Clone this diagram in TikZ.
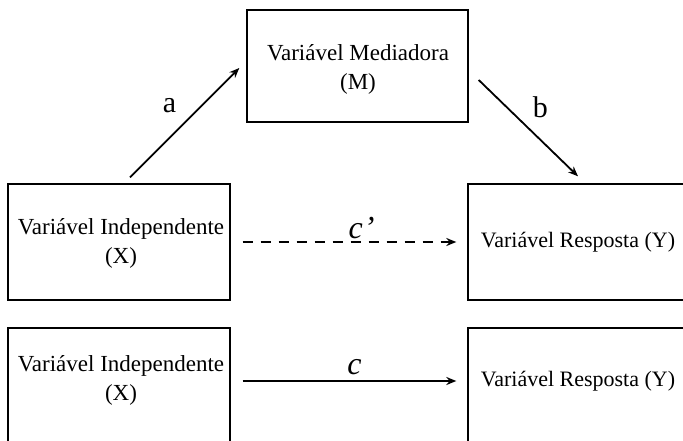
\documentclass[tikz,border=0pt]{standalone}
\usepackage{fontspec}
\setmainfont{Liberation Serif}
\usetikzlibrary{arrows.meta}
\begin{document}
\begin{tikzpicture}[x=1pt,y=-1pt,
  box/.style={draw, line width=1.4pt, inner sep=0pt},
  conn/.style={line width=1.8pt, -{Stealth[length=10pt,width=8pt]}},
  txt/.style={font=\fontsize{23}{29}\selectfont, align=center, inner sep=0pt},
  rtxt/.style={font=\fontsize{22}{28}\selectfont, align=center, inner sep=0pt},
  lab/.style={font=\fontsize{30}{32}\selectfont, inner sep=0pt},
  ilab/.style={font=\fontsize{32}{34}\selectfont\itshape, inner sep=0pt}]
\useasboundingbox (0,0) rectangle (683,441);
\begin{scope}
\clip (0,0) rectangle (683,441);
\node[box, minimum width=221pt, minimum height=112pt] (M) at (357.5,66) {};
\node[box, minimum width=222pt, minimum height=116pt] (X1) at (119,242) {};
\node[box, minimum width=232pt, minimum height=116pt] (Y1) at (584,242) {};
\node[box, minimum width=222pt, minimum height=133pt] (X2) at (119,394.5) {};
\node[box, minimum width=232pt, minimum height=133pt] (Y2) at (584,394.5) {};
\end{scope}
\node[txt] (mt) at (358,69) {Variável Mediadora\\(M)};
\node[txt] (xt1) at (121,243) {Variável Independente\\(X)};
\node[rtxt] (yt1) at (578,242) {Variável Resposta (Y)};
\node[txt] (xt2) at (121,380) {Variável Independente\\(X)};
\node[rtxt] (yt2) at (578,381) {Variável Resposta (Y)};
\draw[conn] ([shift={(11,-6)}]X1.north) -- ([shift={(-7,2)}]M.west) node[lab, pos=0.5, shift={(-15,-17)}] (la) {a};
\draw[conn] ([shift={(10,14)}]M.east) -- ([shift={(-6,-7)}]Y1.north) node[lab, pos=0.5, shift={(12,-21)}] (lb) {b};
\draw[conn, dash pattern=on 10pt off 8pt] ([xshift=12pt]X1.east |- yt1) -- ([xshift=-11pt]Y1.west |- yt1) node[ilab, pos=0.5, shift={(12,-14)}] (lc1) {c\kern1pt’};
\draw[conn] ([xshift=12pt]X2.east |- yt2) -- ([xshift=-11pt]Y2.west |- yt2) node[ilab, pos=0.5, shift={(5,-14)}] (lc2) {c};
\end{tikzpicture}
\end{document}
